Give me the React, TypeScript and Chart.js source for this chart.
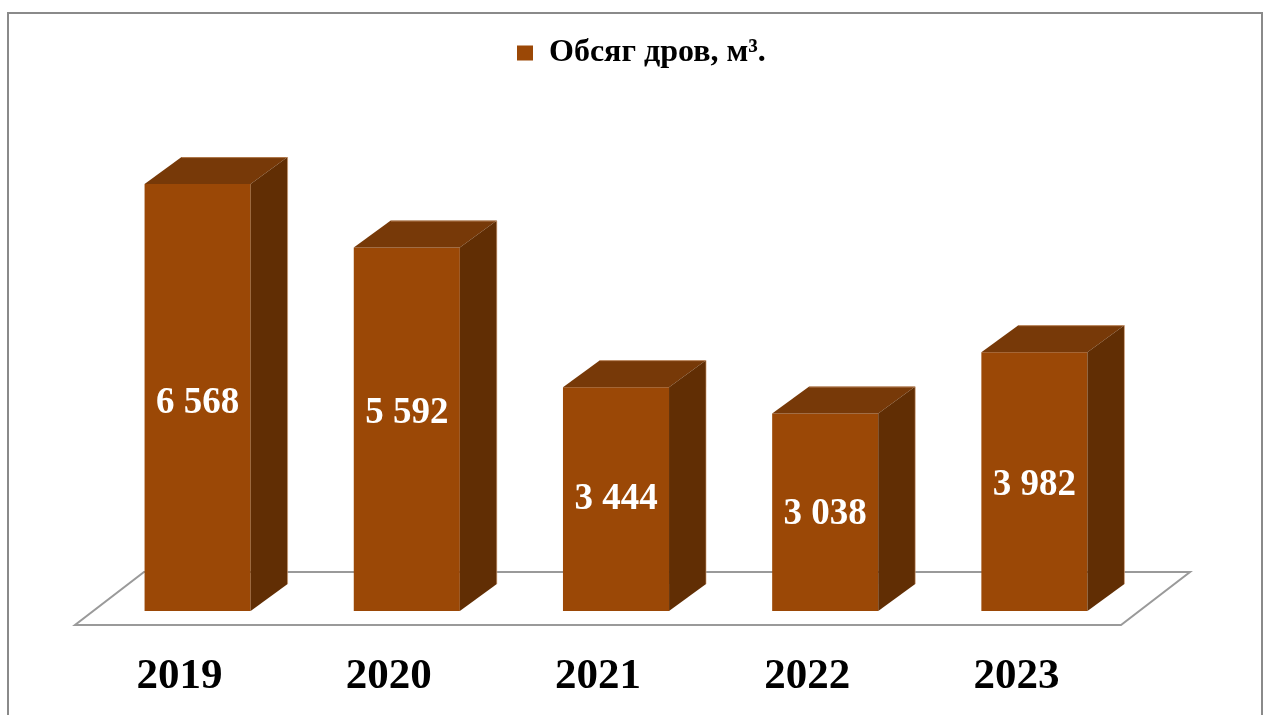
import React, { useEffect, useRef } from "react";
import { Chart, registerables } from "chart.js";

Chart.register(...registerables);

// ---- data ----
const categories = ["2019", "2020", "2021", "2022", "2023"];
const volumes = [6568, 5592, 3444, 3038, 3982];
const seriesLabel = "Обсяг дров, м³.";

// ---- styles ----
const FRONT = "#9B4806";
const TOP = "#773908";
const SIDE = "#612E04";
const FONT = "'Liberation Serif', 'Times New Roman', serif";
const DEPTH = { dx: 37, dy: -27 };
const FLOOR_FRONT = { dx: -18, dy: 14 };
const FLOOR_BACK = { dx: 51, dy: -39 };
const labelShift = [6, -16, 0, 2, 4];

const fmt = (v: number) => String(v).replace(/\B(?=(\d{3})+(?!\d))/g, " ");

const bar3d = {
  id: "bar3d",
  beforeLayout(chart: any) {
    const lg = chart.legend;
    if (lg && !lg.__patched) {
      const orig = lg.fit.bind(lg);
      lg.fit = function () {
        orig();
        this.height = 129;
      };
      lg.__patched = true;
    }
  },
  afterLayout(chart: any) {
    const lg = chart.legend;
    if (lg && lg.lineWidths) {
      const x0 = (lg.left + 10 + lg.right - lg.lineWidths[0]) / 2;
      const shift = 517 - x0;
      lg.left += shift;
      lg.right += shift;
    }
  },
  beforeDraw(chart: any) {
    const ctx = chart.ctx;
    ctx.save();
    ctx.fillStyle = "#ffffff";
    ctx.fillRect(0, 0, chart.width, chart.height);
    ctx.strokeStyle = "#8a8a8a";
    ctx.lineWidth = 2;
    ctx.strokeRect(8, 13, 1254, 730);
    ctx.restore();
  },
  beforeDatasetsDraw(chart: any) {
    const { ctx, chartArea } = chart;
    const l = chartArea.left, r = chartArea.right, b = chartArea.bottom;
    ctx.save();
    ctx.beginPath();
    ctx.moveTo(l + FLOOR_FRONT.dx, b + FLOOR_FRONT.dy);
    ctx.lineTo(r + FLOOR_FRONT.dx, b + FLOOR_FRONT.dy);
    ctx.lineTo(r + FLOOR_BACK.dx, b + FLOOR_BACK.dy);
    ctx.lineTo(l + FLOOR_BACK.dx, b + FLOOR_BACK.dy);
    ctx.closePath();
    ctx.fillStyle = "#ffffff";
    ctx.fill();
    ctx.strokeStyle = "#9a9a9a";
    ctx.lineWidth = 2;
    ctx.stroke();
    ctx.restore();
  },
  afterDatasetsDraw(chart: any) {
    const ctx = chart.ctx;
    const meta = chart.getDatasetMeta(0);
    ctx.save();
    meta.data.forEach((el: any, i: number) => {
      const { x, y, base, width } = el.getProps(["x", "y", "base", "width"], true);
      const l = x - width / 2;
      const r = x + width / 2;
      // top face
      ctx.beginPath();
      ctx.moveTo(l, y);
      ctx.lineTo(l + DEPTH.dx, y + DEPTH.dy);
      ctx.lineTo(r + DEPTH.dx, y + DEPTH.dy);
      ctx.lineTo(r, y);
      ctx.closePath();
      ctx.fillStyle = TOP;
      ctx.fill();
      // side face
      ctx.beginPath();
      ctx.moveTo(r, y);
      ctx.lineTo(r + DEPTH.dx, y + DEPTH.dy);
      ctx.lineTo(r + DEPTH.dx, base + DEPTH.dy);
      ctx.lineTo(r, base);
      ctx.closePath();
      ctx.fillStyle = SIDE;
      ctx.fill();
      // light edge highlights
      ctx.beginPath();
      ctx.moveTo(l + DEPTH.dx, y + DEPTH.dy + 0.5);
      ctx.lineTo(r + DEPTH.dx, y + DEPTH.dy + 0.5);
      ctx.lineTo(r + DEPTH.dx, base + DEPTH.dy);
      ctx.strokeStyle = "rgba(220,170,130,0.6)";
      ctx.lineWidth = 1;
      ctx.stroke();
      // value label
      ctx.font = `bold 37px ${FONT}`;
      ctx.fillStyle = "#ffffff";
      ctx.textAlign = "center";
      ctx.textBaseline = "middle";
      ctx.fillText(fmt(volumes[i]), x, (y + base) / 2 + labelShift[i]);
    });
    ctx.restore();
  },
};

export default function App() {
  const ref = useRef<HTMLCanvasElement | null>(null);
  useEffect(() => {
    if (!ref.current) return;
    const chart = new Chart(ref.current, {
      type: "bar",
      data: {
        labels: categories,
        datasets: [
          {
            label: seriesLabel,
            data: volumes,
            backgroundColor: FRONT,
            borderWidth: 0,
            categoryPercentage: 1,
            barPercentage: 0.507,
          },
        ],
      },
      options: {
        responsive: false,
        animation: false,
        devicePixelRatio: 1,
        layout: { padding: { left: 93, right: 131, top: 27, bottom: 12 } },
        plugins: {
          legend: {
            position: "top",
            labels: {
              boxWidth: 16,
              boxHeight: 15,
              padding: 10,
              color: "#000000",
              font: { family: FONT, size: 32, weight: "bold" },
            },
          },
          tooltip: { enabled: false },
        },
        scales: {
          x: {
            grid: { display: false, drawTicks: false },
            border: { display: false },
            afterFit: (s: any) => {
              s.height = 92;
            },
            ticks: {
              color: "#000000",
              padding: 40,
              labelOffset: -18,
              font: { family: FONT, size: 43, weight: "bold" },
            },
          },
          y: {
            display: false,
            min: 0,
            max: 7000,
          },
        },
      },
      plugins: [bar3d],
    });
    return () => chart.destroy();
  }, []);
  return (
    <div style={{ position: "fixed", left: 0, top: 0, width: 1270, height: 715, background: "#fff" }}>
      <canvas ref={ref} width={1270} height={715} style={{ width: 1270, height: 715, display: "block" }} />
    </div>
  );
}
